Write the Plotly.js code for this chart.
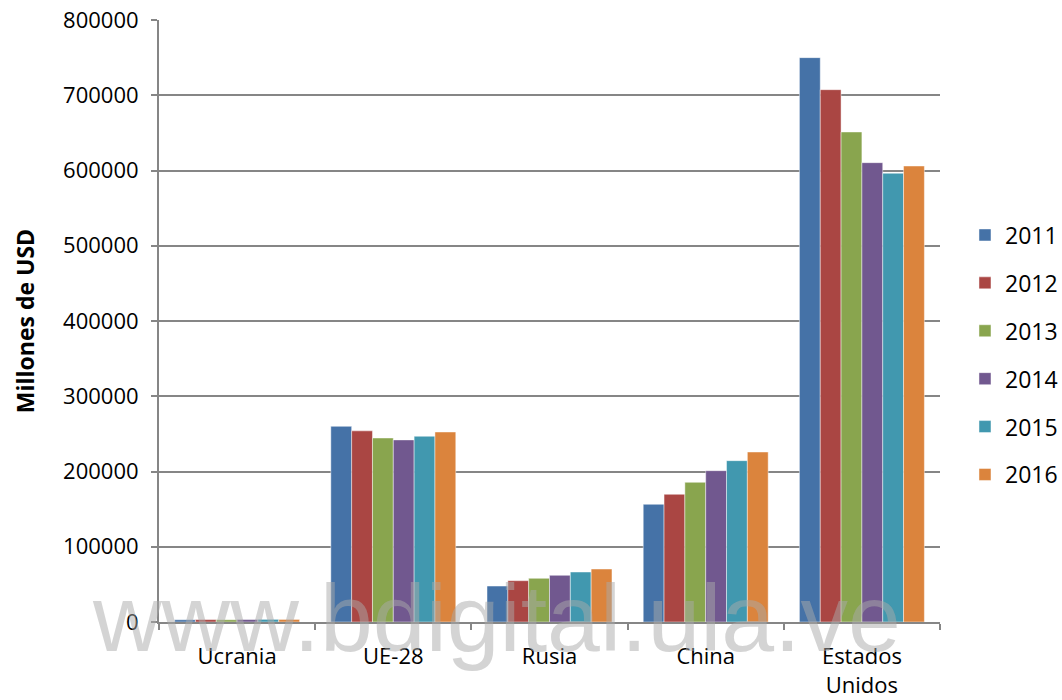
<!DOCTYPE html>
<html><head><meta charset="utf-8">
<script src="https://cdn.plot.ly/plotly-3.0.1.min.js"></script>
<style>html,body{margin:0;padding:0;background:#fff;}#chart{width:1062px;height:700px;}</style>
</head><body><div id="chart"></div>
<script>
const categories = ["Ucrania", "UE-28", "Rusia", "China", "Estados<br>Unidos"];
const years = ["2011", "2012", "2013", "2014", "2015", "2016"];
const v2011 = [3000, 260000, 47800, 156400, 750000];
const v2012 = [3200, 254000, 54900, 169700, 707400];
const v2013 = [3000, 244500, 58000, 185600, 651200];
const v2014 = [3300, 242000, 62000, 201100, 610400];
const v2015 = [3500, 246800, 66400, 214400, 596300];
const v2016 = [3400, 252500, 70400, 225900, 606000];
const seriesValues = [v2011, v2012, v2013, v2014, v2015, v2016];
const colors = ["#4572A7", "#AA4643", "#89A54E", "#71588F", "#4198AF", "#DB843D"];
const yTickVals = [0, 100000, 200000, 300000, 400000, 500000, 600000, 700000, 800000];
const yTickText = ["0", "100000", "200000", "300000", "400000", "500000", "600000", "700000", "800000"];

const FONT = "'Open Sans', Lato, sans-serif";
const traces = years.map((y, i) => ({
  type: "bar",
  name: y,
  x: categories,
  y: seriesValues[i],
  legendgroup: "g" + i,
  marker: {color: colors[i], line: {color: "rgba(255,255,255,0.45)", width: 1}},
  hoverinfo: "x+y+name"
}));

const layout = {
  width: 1062, height: 700,
  margin: {l: 159, r: 122, t: 20, b: 78, autoexpand: false},
  paper_bgcolor: "#fff", plot_bgcolor: "#fff",
  barmode: "group", bargap: 0.2, bargroupgap: 0,
  font: {family: FONT, size: 22, color: "#000"},
  xaxis: {
    showline: true, linecolor: "#868686", linewidth: 2,
    ticks: "outside", tickson: "boundaries", ticklen: 6, tickcolor: "#868686", tickwidth: 2,
    tickfont: {family: FONT, size: 22, color: "#000"},
    ticklabelstandoff: 14,
    showgrid: false, zeroline: false, fixedrange: true
  },
  yaxis: {
    range: [0, 800000], tickvals: yTickVals, ticktext: yTickText,
    showline: true, linecolor: "#868686", linewidth: 2,
    ticks: "outside", ticklen: 6, tickcolor: "#868686", tickwidth: 2,
    ticklabelstandoff: 8,
    showgrid: true, gridcolor: "#868686", gridwidth: 2, zeroline: false,
    tickfont: {family: FONT, size: 22, color: "#000"},
    title: {text: "<b>Millones de USD</b>", font: {family: FONT, size: 23, color: "#000"}, standoff: 22},
    fixedrange: true
  },
  legend: {
    x: 1.032, xanchor: "left", y: 0.4435, yanchor: "middle",
    font: {family: FONT, size: 23, color: "#000"},
    tracegroupgap: 15, itemwidth: 30, bgcolor: "rgba(0,0,0,0)"
  },
  annotations: [{
    text: "www.bdigital.ula.ve", xref: "paper", yref: "paper",
    x: (496 - 159) / 781, y: 0.007, xanchor: "center", yanchor: "middle",
    showarrow: false,
    font: {family: "'Liberation Sans', Arial, sans-serif", size: 95, color: "rgba(170,170,170,0.5)"}
  }]
};

Plotly.newPlot("chart", traces, layout, {displayModeBar: false, staticPlot: true});
</script></body></html>
